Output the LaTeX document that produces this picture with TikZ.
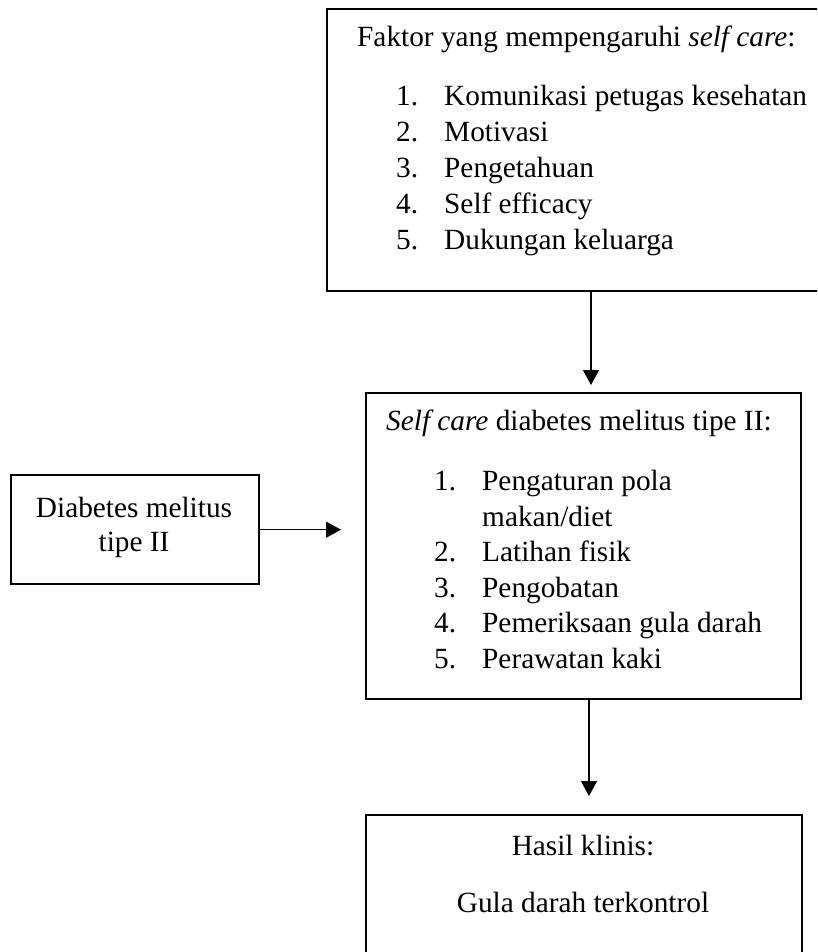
\documentclass[tikz,border=0pt]{standalone}
\usepackage{fontspec}
\setmainfont{Liberation Serif}
\usetikzlibrary{arrows.meta}
\begin{document}
\begin{tikzpicture}[x=1pt,y=-1pt,
  box/.style={draw, line width=2.4pt, inner sep=0pt, anchor=north west},
  txt/.style={inner sep=0pt, anchor=base west, font=\fontsize{29.3}{36}\selectfont},
  ctxt/.style={inner sep=0pt, anchor=base, font=\fontsize{29.3}{36}\selectfont},
  arr/.style={line width=1.2pt, -{Triangle[width=16pt,length=15pt]}}]
\useasboundingbox (0,0) rectangle (817,952);
\clip (0,0) rectangle (817,952);

% boxes
\node[box, minimum width=504pt, minimum height=282pt] (topbox) at (326,8) {};
\node[box, minimum width=435pt, minimum height=306pt] (mid) at (365,392) {};
\node[box, minimum width=248pt, minimum height=109pt] (small) at (10,474) {};
\node[box, minimum width=436pt, minimum height=200pt] (bot) at (365,814) {};

% top box text
\node[txt] (t0) at (357,47) {Faktor yang mempengaruhi \textit{self care}:};
\node[txt] (t1n) at (396,106) {1.};
\node[txt] (t1) at (444,106) {Komunikasi petugas kesehatan};
\node[txt] (t2n) at (396,142) {2.};
\node[txt] (t2) at (444,142) {Motivasi};
\node[txt] (t3n) at (396,177.5) {3.};
\node[txt] (t3) at (444,177.5) {Pengetahuan};
\node[txt] (t4n) at (396,213) {4.};
\node[txt] (t4) at (444,213) {Self efficacy};
\node[txt] (t5n) at (396,249) {5.};
\node[txt] (t5) at (444,249) {Dukungan keluarga};

% middle box text
\node[txt] (m0) at (386,430) {\textit{Self care} diabetes melitus tipe II:};
\node[txt] (m1n) at (434,490) {1.};
\node[txt] (m1) at (482,490) {Pengaturan pola};
\node[txt] (m1b) at (482,526) {makan/diet};
\node[txt] (m2n) at (434,561) {2.};
\node[txt] (m2) at (482,561) {Latihan fisik};
\node[txt] (m3n) at (434,597) {3.};
\node[txt] (m3) at (482,597) {Pengobatan};
\node[txt] (m4n) at (434,632) {4.};
\node[txt] (m4) at (482,632) {Pemeriksaan gula darah};
\node[txt] (m5n) at (434,668) {5.};
\node[txt] (m5) at (482,668) {Perawatan kaki};

% small box text
\node[ctxt] (s1) at (134,517) {Diabetes melitus};
\node[ctxt] (s2) at (134,551) {tipe II};

% bottom box text
\node[ctxt] (b1) at (583,855) {Hasil klinis:};
\node[ctxt] (b2) at (583,912) {Gula darah terkontrol};

% connectors
\coordinate (ax1) at (591,0);
\coordinate (ax2) at (589,0);
\draw[arr, shorten >=7pt] (topbox.south -| ax1) -- (mid.north -| ax1);
\draw[arr, shorten >=24pt] (small.east) -- (mid.west |- small.east);
\draw[arr, shorten >=18pt] (mid.south -| ax2) -- (bot.north -| ax2);
\end{tikzpicture}
\end{document}
